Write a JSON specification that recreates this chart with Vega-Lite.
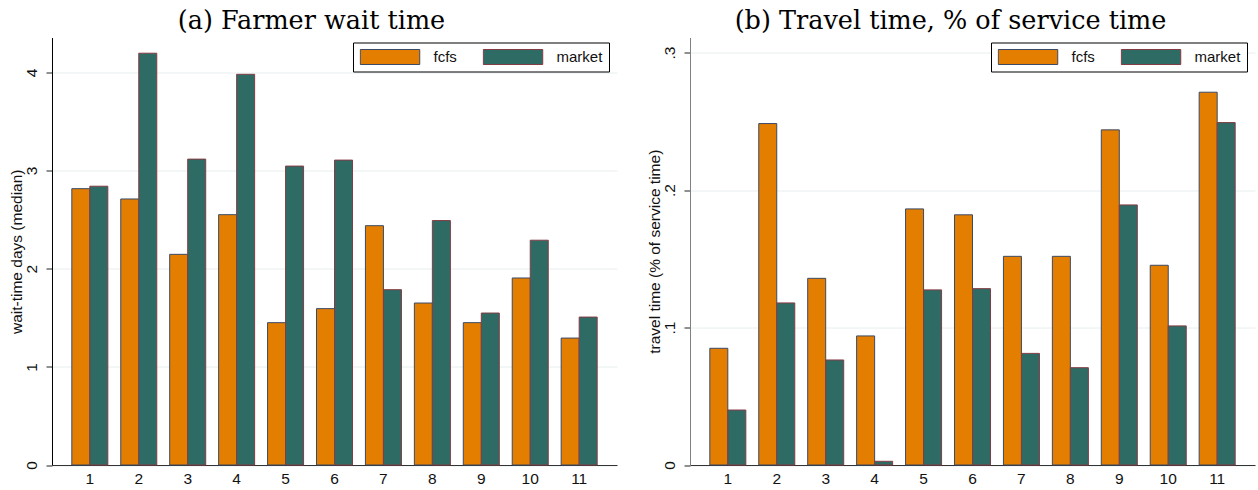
{
  "$schema": "https://vega.github.io/schema/vega-lite/v6.json",
  "padding": {"left": 9, "top": 8.5, "right": 2, "bottom": 2},
  "spacing": 30,
  "background": "white",
  "datasets": {
    "wait": [
      {"site": 1, "series": "fcfs", "value": 2.815}, {"site": 1, "series": "market", "value": 2.84},
      {"site": 2, "series": "fcfs", "value": 2.71}, {"site": 2, "series": "market", "value": 4.195},
      {"site": 3, "series": "fcfs", "value": 2.146}, {"site": 3, "series": "market", "value": 3.116},
      {"site": 4, "series": "fcfs", "value": 2.55}, {"site": 4, "series": "market", "value": 3.98},
      {"site": 5, "series": "fcfs", "value": 1.45}, {"site": 5, "series": "market", "value": 3.045},
      {"site": 6, "series": "fcfs", "value": 1.593}, {"site": 6, "series": "market", "value": 3.106},
      {"site": 7, "series": "fcfs", "value": 2.438}, {"site": 7, "series": "market", "value": 1.786},
      {"site": 8, "series": "fcfs", "value": 1.65}, {"site": 8, "series": "market", "value": 2.49},
      {"site": 9, "series": "fcfs", "value": 1.45}, {"site": 9, "series": "market", "value": 1.548},
      {"site": 10, "series": "fcfs", "value": 1.905}, {"site": 10, "series": "market", "value": 2.29},
      {"site": 11, "series": "fcfs", "value": 1.293}, {"site": 11, "series": "market", "value": 1.507}
    ],
    "travel": [
      {"site": 1, "series": "fcfs", "value": 0.0849}, {"site": 1, "series": "market", "value": 0.040},
      {"site": 2, "series": "fcfs", "value": 0.2484}, {"site": 2, "series": "market", "value": 0.1179},
      {"site": 3, "series": "fcfs", "value": 0.1358}, {"site": 3, "series": "market", "value": 0.0764},
      {"site": 4, "series": "fcfs", "value": 0.0939}, {"site": 4, "series": "market", "value": 0.0027},
      {"site": 5, "series": "fcfs", "value": 0.1863}, {"site": 5, "series": "market", "value": 0.1274},
      {"site": 6, "series": "fcfs", "value": 0.182}, {"site": 6, "series": "market", "value": 0.1283},
      {"site": 7, "series": "fcfs", "value": 0.1518}, {"site": 7, "series": "market", "value": 0.0812},
      {"site": 8, "series": "fcfs", "value": 0.1518}, {"site": 8, "series": "market", "value": 0.0708},
      {"site": 9, "series": "fcfs", "value": 0.2438}, {"site": 9, "series": "market", "value": 0.1892},
      {"site": 10, "series": "fcfs", "value": 0.1453}, {"site": 10, "series": "market", "value": 0.1012},
      {"site": 11, "series": "fcfs", "value": 0.2712}, {"site": 11, "series": "market", "value": 0.2491}
    ]
  },
  "resolve": {"legend": {"fill": "independent", "stroke": "independent"}, "scale": {"y": "independent"}},
  "hconcat": [
    {
      "width": 565,
      "height": 427.5,
      "title": {"text": "(a) Farmer wait time", "dx": -23},
      "data": {"name": "wait"},
      "mark": {"type": "bar", "strokeWidth": 1},
      "encoding": {
        "x": {"field": "site", "type": "ordinal",
              "scale": {"paddingInner": 0.264, "paddingOuter": 0.405},
              "axis": {"title": null, "labelAngle": 0, "ticks": false, "labelPadding": 6, "domainColor": "#333333", "grid": false}},
        "xOffset": {"field": "series", "type": "nominal", "scale": {"paddingInner": 0, "paddingOuter": 0}},
        "y": {"field": "value", "type": "quantitative",
              "scale": {"domain": [0, 4.355], "nice": false, "zero": true},
              "axis": {"title": "wait-time days (median)", "values": [0, 1, 2, 3, 4], "domainColor": "#000000", "format": "d"}},
        "fill": {"field": "series", "type": "nominal", "title": null,
                 "scale": {"domain": ["fcfs", "market"], "range": ["#E37E00", "#2E6B64"]}},
        "stroke": {"field": "series", "type": "nominal", "title": null,
                   "scale": {"domain": ["fcfs", "market"], "range": ["#3a4a66", "#843c44"]}}
      }
    },
    {
      "width": 565,
      "height": 427.5,
      "title": {"text": "(b) Travel time, % of service time", "dx": -22},
      "data": {"name": "travel"},
      "mark": {"type": "bar", "strokeWidth": 1},
      "encoding": {
        "x": {"field": "site", "type": "ordinal",
              "scale": {"paddingInner": 0.264, "paddingOuter": 0.405},
              "axis": {"title": null, "labelAngle": 0, "ticks": false, "labelPadding": 6, "domainColor": "#333333", "grid": false}},
        "xOffset": {"field": "series", "type": "nominal", "scale": {"paddingInner": 0, "paddingOuter": 0}},
        "y": {"field": "value", "type": "quantitative",
              "scale": {"domain": [0, 0.311], "nice": false, "zero": true},
              "axis": {"title": "travel time (% of service time)", "values": [0, 0.1, 0.2, 0.3], "domainColor": "#808080",
                       "labelExpr": "datum.value == 0 ? '0' : replace(format(datum.value, '.1f'), '0.', '.')"}},
        "fill": {"field": "series", "type": "nominal", "title": null,
                 "scale": {"domain": ["fcfs", "market"], "range": ["#E37E00", "#2E6B64"]}},
        "stroke": {"field": "series", "type": "nominal", "title": null,
                   "scale": {"domain": ["fcfs", "market"], "range": ["#3a4a66", "#843c44"]}}
      }
    }
  ],
  "config": {
    "view": {"stroke": null},
    "font": "Liberation Sans",
    "title": {"font": "DejaVu Serif", "fontSize": 25.5, "fontWeight": "normal", "color": "#000000", "offset": 3, "anchor": "middle"},
    "axis": {"labelFont": "Liberation Sans", "labelFontSize": 15.5, "labelColor": "#111111", "titleFont": "Liberation Sans", "titleFontSize": 15.5, "titleFontWeight": "normal", "titleColor": "#111111", "gridColor": "#E6EEF0", "gridWidth": 1, "tickColor": "#222222", "tickSize": 6, "domainWidth": 1},
    "axisY": {"labelAngle": 270, "labelPadding": 7, "titlePadding": 0, "grid": true},
    "legend": {
      "orient": "none", "legendX": 301, "legendY": 5, "direction": "horizontal", "columns": 2,
      "symbolType": "M-1,-0.252H1V0.252H-1Z", "symbolSize": 3540, "symbolStrokeWidth": 1, "symbolOpacity": 1,
      "clipHeight": 16,
      "labelFont": "Liberation Sans", "labelFontSize": 15, "labelColor": "#111111", "labelOffset": 13,
      "columnPadding": 25, "padding": 6.5, "strokeColor": "#000000", "fillColor": "#ffffff"
    }
  }
}
